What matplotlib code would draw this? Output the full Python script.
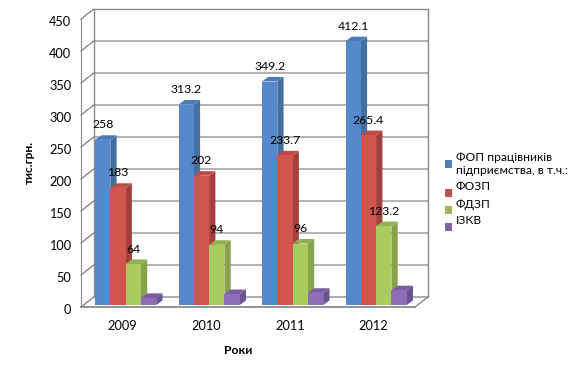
import matplotlib
matplotlib.use("Agg")
import matplotlib.pyplot as plt
from matplotlib.patches import Polygon, Rectangle
from matplotlib.transforms import ScaledTranslation

plt.rcParams['font.family'] = ['Lato', 'Open Sans', 'DejaVu Sans']

years = ['2009', '2010', '2011', '2012']
fop = [258, 313.2, 349.2, 412.1]
fozp = [183, 202, 233.7, 265.4]
fdzp = [64, 94, 96, 123.2]
izkv = [11, 17, 19, 23]
fop_labels = ['258', '313.2', '349.2', '412.1']
fozp_labels = ['183', '202', '233.7', '265.4']
fdzp_labels = ['64', '94', '96', '123.2']
series_names = ['ФОП працівників\nпідприємства, в т.ч.:', 'ФОЗП', 'ФДЗП', 'ІЗКВ']
y_ticks = [0, 50, 100, 150, 200, 250, 300, 350, 400, 450]

W, H = 578, 378
fig = plt.figure(figsize=(W / 100, H / 100), dpi=100)
# front plane of the 3d box, in pixels
left, right, top, bottom = 81, 415, 19, 307
ax = fig.add_axes([left / W, 1 - bottom / H, (right - left) / W, (bottom - top) / H])
ax.set_xlim(0, 4)
ax.set_ylim(0, 450)
ax.patch.set_visible(False)

px_x = 4 / (right - left)
px_y = 450 / (bottom - top)
wall_dx, wall_dy = 12.5 * px_x, 9.7 * px_y
bar_dx, bar_dy = 6.3 * px_x, 4.6 * px_y
bar_w = 15.3 * px_x
bar_start = 14 * px_x
lift = 2 * px_y

wall_c = '#8a8a8a'
grid_c = '#adadad'
for v in y_ticks:
    if v > 0 and v < 450:
        ax.plot([wall_dx, 4 + wall_dx], [v + wall_dy] * 2, color=grid_c, lw=1.3, clip_on=False, zorder=1)
    ax.plot([0, wall_dx], [v, v + wall_dy], color=wall_c, lw=1, clip_on=False, zorder=1)
ax.plot([wall_dx, 4 + wall_dx], [450 + wall_dy] * 2, color=wall_c, lw=1, clip_on=False, zorder=1)
ax.plot([wall_dx, 4 + wall_dx], [wall_dy] * 2, color=grid_c, lw=1.5, clip_on=False, zorder=1)
ax.plot([wall_dx, wall_dx], [wall_dy, 450 + wall_dy], color=wall_c, lw=1, clip_on=False, zorder=1)
ax.plot([4 + wall_dx] * 2, [wall_dy, 450 + wall_dy], color=wall_c, lw=1, clip_on=False, zorder=1)
ax.plot([4, 4 + wall_dx], [0, wall_dy], color=wall_c, lw=1, clip_on=False, zorder=1)

all_series = [fop, fozp, fdzp, izkv]
front_cols = ['#5588cc', '#d2544f', '#a9cc5f', '#8d6db8']
top_cols = ['#4b7cb9', '#bd4c48', '#92b052', '#7a5ca3']
side_cols = ['#44709f', '#a53f3d', '#86a24a', '#6b5390']
z = 3
for i in range(len(years)):
    for j, vals in enumerate(all_series):
        x0 = i + bar_start + j * bar_w
        x1 = x0 + bar_w
        b = lift
        t = lift + vals[i]
        ax.add_patch(Polygon([(x1, b), (x1 + bar_dx, b + bar_dy), (x1 + bar_dx, t + bar_dy), (x1, t)],
                             fc=side_cols[j], ec='none', clip_on=False, zorder=z))
        ax.add_patch(Polygon([(x0, t), (x1, t), (x1 + bar_dx, t + bar_dy), (x0 + bar_dx, t + bar_dy)],
                             fc=top_cols[j], ec='none', clip_on=False, zorder=z))
        ax.bar(x0, vals[i], bar_w, bottom=lift, align='edge', color=front_cols[j], zorder=z, clip_on=False)
        z += 1

# value labels
label_sets = [fop_labels, fozp_labels, fdzp_labels]
for j, labs in enumerate(label_sets):
    for i, lab in enumerate(labs):
        x = i + bar_start + j * bar_w + bar_w / 2
        ax.annotate(lab, (x, all_series[j][i] + lift), xytext=(0, 15), textcoords='offset pixels',
                    ha='center', va='center', fontsize=8.8, color='black', zorder=50, annotation_clip=False)

for s in ['top', 'right']:
    ax.spines[s].set_visible(False)
ax.spines['left'].set_color(wall_c)
ax.spines['bottom'].set_color(wall_c)
ax.spines['bottom'].set_linewidth(1.3)
ax.set_yticks(y_ticks)
ax.set_xticks([i + 0.5 for i in range(len(years))])
ax.set_xticklabels(years)
ax.tick_params(axis='y', length=0, pad=7, labelsize=9.2)
ax.tick_params(axis='x', length=0, pad=9, labelsize=9.2)
# y labels sit a little lower than the tick position in the original
for lab in ax.get_yticklabels():
    lab.set_transform(lab.get_transform() + ScaledTranslation(0, -1.5 / 100, fig.dpi_scale_trans))

fig.text(29 / W, 1 - 162 / H, 'тис.грн.', rotation=90, ha='center', va='center', fontsize=8.6, fontweight='bold')
fig.text(238 / W, 1 - 351 / H, 'Роки', ha='center', va='center', fontsize=8.8, fontweight='bold')

# legend
legend_cols = ['#4f81bd', '#c0504d', '#9bbb59', '#8064a2']
marker_y = [164, 193, 210, 227]
text_y = [164, 186, 204, 221]
for name, c, my, ty in zip(series_names, legend_cols, marker_y, text_y):
    fig.add_artist(Rectangle((444.5 / W, 1 - (my + 4) / H), 7.5 / W, 8 / H, fc=c, ec='none',
                             transform=fig.transFigure))
    fig.text(456 / W, 1 - ty / H, name, ha='left', va='center', fontsize=8.65, linespacing=1.15)

fig.savefig('out.png', dpi=100)
